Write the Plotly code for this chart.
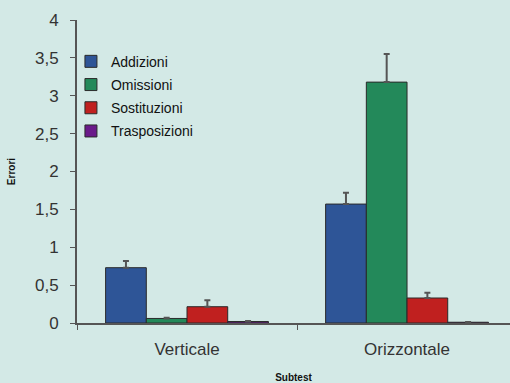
import plotly.graph_objects as go

categories = ["Verticale", "Orizzontale"]
series_names = ["Addizioni", "Omissioni", "Sostituzioni", "Trasposizioni"]
addizioni = [0.73, 1.57]
omissioni = [0.06, 3.18]
sostituzioni = [0.215, 0.33]
trasposizioni = [0.02, 0.01]
err_addizioni = [0.09, 0.15]
err_omissioni = [0.01, 0.37]
err_sostituzioni = [0.085, 0.07]
err_trasposizioni = [0.005, 0.003]
y_ticks = [0, 0.5, 1, 1.5, 2, 2.5, 3, 3.5, 4]
y_tick_labels = ["0", "0,5", "1", "1,5", "2", "2,5", "3", "3,5", "4"]

values = [addizioni, omissioni, sostituzioni, trasposizioni]
errors = [err_addizioni, err_omissioni, err_sostituzioni, err_trasposizioni]
colors = ["#2e5597", "#23895a", "#c0201f", "#6a1a8a"]

bg = "#d3e9e6"
fig = go.Figure()
for name, v, e, c in zip(series_names, values, errors, colors):
    fig.add_trace(go.Bar(
        x=categories, y=v, name=name, legendgroup=name,
        marker=dict(color=c, line=dict(color="#2a2a2a", width=1)),
        error_y=dict(type="data", symmetric=False, array=e, arrayminus=[0, 0],
                     color="#555555", thickness=2, width=3),
    ))

fig.update_layout(
    width=510, height=383,
    margin=dict(l=77, r=0, t=20, b=60),
    paper_bgcolor=bg, plot_bgcolor=bg,
    barmode="group", bargap=0.26, bargroupgap=0,
    font=dict(family="Liberation Sans Narrow, Liberation Sans, Arial, sans-serif", color="#333333"),
    showlegend=True,
    legend=dict(x=-0.014, y=0.915, xanchor="left", yanchor="top",
                bgcolor="rgba(0,0,0,0)", font=dict(size=14, color="#111111"),
                tracegroupgap=2, itemwidth=30),
    xaxis=dict(
        range=[-0.5, 1.468], showline=True, linecolor="#555555", linewidth=2,
        ticks="outside", tickson="boundaries", ticklen=5, tickcolor="#555555",
        tickfont=dict(size=17, color="#333333"), showgrid=False, ticklabelstandoff=10,
        title=dict(text="<b>Subtest</b>", font=dict(size=10, color="#111111"), standoff=18),
    ),
    yaxis=dict(
        range=[0, 4], tickvals=y_ticks, ticktext=y_tick_labels,
        showline=True, linecolor="#555555", linewidth=2,
        ticks="outside", ticklen=5, tickcolor="#555555",
        tickfont=dict(size=17, color="#333333"), showgrid=False, zeroline=False,
        ticklabelstandoff=8,
        title=dict(text="<b>Errori</b>", font=dict(size=10, color="#111111"), standoff=17),
    ),
)

fig.write_html("out.html", config={"displayModeBar": False},
               post_script="document.body.style.margin='0';document.body.style.background='%s';" % bg)
